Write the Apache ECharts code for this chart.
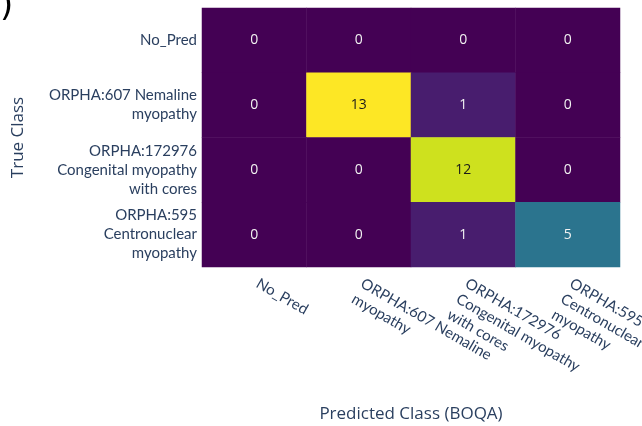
<!DOCTYPE html>
<html>
<head>
<meta charset="utf-8">
<script src="https://cdn.jsdelivr.net/npm/echarts@6/dist/echarts.min.js"></script>
<style>
html,body{margin:0;padding:0;background:#fff;}
#chart{width:642px;height:426px;}
</style>
</head>
<body>
<div id="chart"></div>
<script>
// categories
const trueClasses = [
  'No_Pred',
  'ORPHA:607 Nemaline\nmyopathy',
  'ORPHA:172976\nCongenital myopathy\nwith cores',
  'ORPHA:595\nCentronuclear\nmyopathy'
];
const predClasses = [
  'No_Pred',
  'ORPHA:607 Nemaline\nmyopathy',
  'ORPHA:172976\nCongenital myopathy\nwith cores',
  'ORPHA:595\nCentronuclear\nmyopathy'
];
// confusion matrix rows = true class, cols = predicted class
const rowNoPred = [0, 0, 0, 0];
const row607 = [0, 13, 1, 0];
const row172976 = [0, 0, 12, 0];
const row595 = [0, 0, 1, 5];
const matrix = [rowNoPred, row607, row172976, row595];

const viridis = ['#440154','#48186a','#472d7b','#424086','#3b528b','#33638d','#2c728e','#26828e','#21918c','#1fa088','#28ae80','#3fbc73','#5ec962','#84d44b','#addc30','#d8e219','#fde725'];

let maxV = 0;
matrix.forEach(r => r.forEach(v => { if (v > maxV) maxV = v; }));

const data = [];
matrix.forEach((row, i) => {
  row.forEach((v, j) => {
    data.push({
      value: [j, i, v],
      label: { color: v > maxV * 0.6 ? '#1a1a1a' : '#f2f2f2' }
    });
  });
});

const tickFont = { fontFamily: 'Lato', fontSize: 15, color: '#2a3f5f' };
const chart = echarts.init(document.getElementById('chart'), null, { renderer: 'canvas' });
chart.setOption({
  animation: false,
  backgroundColor: '#ffffff',
  grid: { left: 202, right: 22, top: 8, bottom: 159, containLabel: false, outerBoundsMode: 'none' },
  xAxis: {
    type: 'category',
    data: predClasses,
    axisLine: { show: false },
    axisTick: { show: false },
    splitLine: { show: false },
    axisLabel: Object.assign({ interval: 0, rotate: -30, margin: 3, padding: [0, 0, 0, 9], lineHeight: 18, align: 'left', verticalAlign: 'top' }, tickFont),
    name: 'Predicted Class (BOQA)',
    nameLocation: 'middle',
    nameGap: 139,
    nameTextStyle: { fontFamily: 'Open Sans', fontSize: 17, color: '#2a3f5f' }
  },
  yAxis: {
    type: 'category',
    data: trueClasses,
    inverse: true,
    axisLine: { show: false },
    axisTick: { show: false },
    splitLine: { show: false },
    axisLabel: Object.assign({ interval: 0, margin: 5, lineHeight: 19, align: 'right' }, tickFont),
    name: 'True Class',
    nameLocation: 'middle',
    nameGap: 175,
    nameRotate: 90,
    nameTextStyle: { fontFamily: 'Open Sans', fontSize: 17, color: '#2a3f5f' }
  },
  visualMap: {
    show: false,
    type: 'continuous',
    min: 0,
    max: maxV,
    dimension: 2,
    inRange: { color: viridis }
  },
  series: [{
    type: 'heatmap',
    data: data,
    label: { show: true, fontFamily: 'Open Sans', fontSize: 14 },
    itemStyle: { borderWidth: 0 },
    emphasis: { disabled: true }
  }],
  graphic: [{
    type: 'text',
    left: 0,
    top: -10,
    style: { text: ')', font: '34px "DejaVu Sans"', fill: '#000000' }
  }]
});
</script>
</body>
</html>
